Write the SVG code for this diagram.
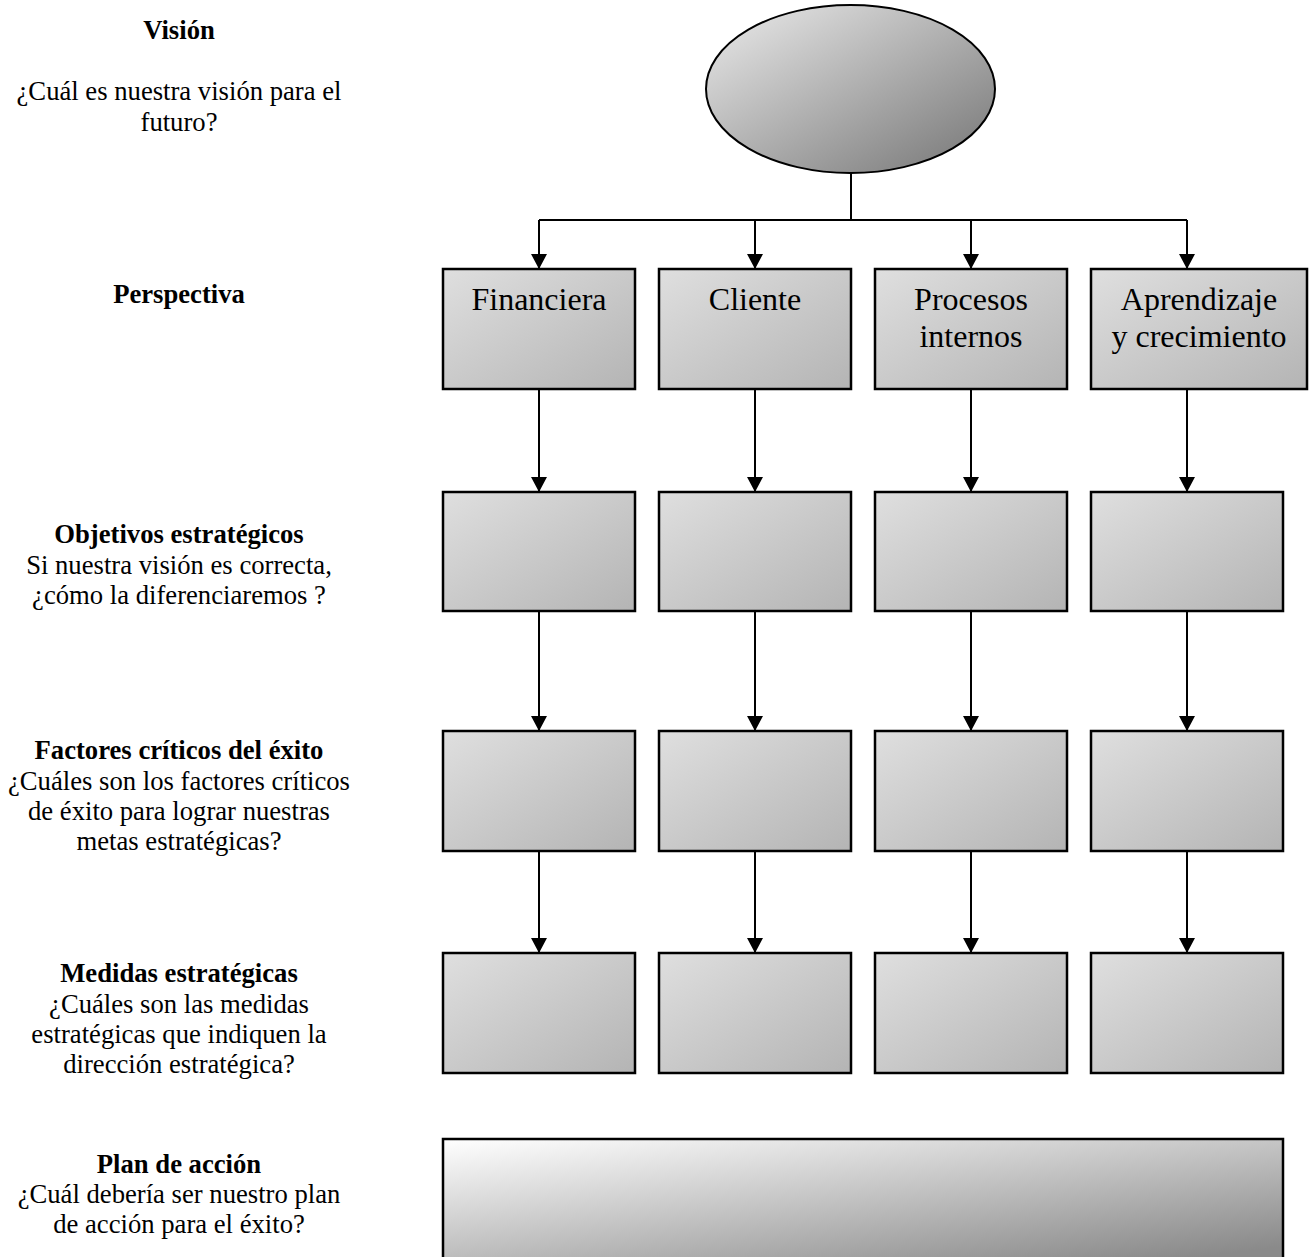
<svg xmlns="http://www.w3.org/2000/svg" width="1309" height="1257" viewBox="0 0 1309 1257">
<style>
.lbl{font-family:"Liberation Serif","Times New Roman",serif;font-size:26.67px;fill:#000;text-anchor:middle}
.b{font-weight:bold}
.bx{font-family:"Liberation Serif","Times New Roman",serif;font-size:32px;fill:#000;text-anchor:middle}
.box{fill:url(#gBox);stroke:#000;stroke-width:2.5}
.conn{stroke:#000;stroke-width:2;fill:none}
.arr{marker-end:url(#ah)}
</style>
<defs>
<linearGradient id="gBox" x1="0" y1="0" x2="1" y2="1">
<stop offset="0" stop-color="#dfdfdf"/>
<stop offset="1" stop-color="#b4b4b4"/>
</linearGradient>
<linearGradient id="gEll" x1="0" y1="0" x2="1" y2="1">
<stop offset="0" stop-color="#ececec"/>
<stop offset="1" stop-color="#747474"/>
</linearGradient>
<linearGradient id="gPlan" x1="0" y1="0" x2="0.8" y2="1">
<stop offset="0" stop-color="#ffffff"/>
<stop offset="1" stop-color="#8a8a8a"/>
</linearGradient>
<marker id="ah" markerUnits="userSpaceOnUse" markerWidth="16" markerHeight="16" refX="15" refY="8" orient="auto">
<path d="M0,0 L15,8 L0,16 z" fill="#000"/>
</marker>
</defs>

<g id="labels">
<text class="lbl b" x="179" y="39">Visión</text>
<text class="lbl" x="179" y="100">¿Cuál es nuestra visión para el</text>
<text class="lbl" x="179" y="131">futuro?</text>
<text class="lbl b" x="179" y="303">Perspectiva</text>
<text class="lbl b" x="179" y="543">Objetivos estratégicos</text>
<text class="lbl" x="179" y="574">Si nuestra visión es correcta,</text>
<text class="lbl" x="179" y="604">¿cómo la diferenciaremos ?</text>
<text class="lbl b" x="179" y="759">Factores críticos del éxito</text>
<text class="lbl" x="179" y="790">¿Cuáles son los factores críticos</text>
<text class="lbl" x="179" y="820">de éxito para lograr nuestras</text>
<text class="lbl" x="179" y="850">metas estratégicas?</text>
<text class="lbl b" x="179" y="982">Medidas estratégicas</text>
<text class="lbl" x="179" y="1013">¿Cuáles son las medidas</text>
<text class="lbl" x="179" y="1043">estratégicas que indiquen la</text>
<text class="lbl" x="179" y="1073">dirección estratégica?</text>
<text class="lbl b" x="179" y="1173">Plan de acción</text>
<text class="lbl" x="179" y="1203">¿Cuál debería ser nuestro plan</text>
<text class="lbl" x="179" y="1233">de acción para el éxito?</text>
</g>

<g id="connectors">
<path class="conn" d="M851,173 V220 M539,220 H1187"/>
<path class="conn arr" d="M539,220 V269"/>
<path class="conn arr" d="M755,220 V269"/>
<path class="conn arr" d="M971,220 V269"/>
<path class="conn arr" d="M1187,220 V269"/>
<path class="conn arr" d="M539,389 V492"/>
<path class="conn arr" d="M755,389 V492"/>
<path class="conn arr" d="M971,389 V492"/>
<path class="conn arr" d="M1187,389 V492"/>
<path class="conn arr" d="M539,611 V731"/>
<path class="conn arr" d="M755,611 V731"/>
<path class="conn arr" d="M971,611 V731"/>
<path class="conn arr" d="M1187,611 V731"/>
<path class="conn arr" d="M539,851 V953"/>
<path class="conn arr" d="M755,851 V953"/>
<path class="conn arr" d="M971,851 V953"/>
<path class="conn arr" d="M1187,851 V953"/>
</g>

<g id="vision">
<ellipse cx="850.5" cy="89" rx="144.5" ry="84" fill="url(#gEll)" stroke="#000" stroke-width="2"/>
</g>

<g id="p-financiera"><rect class="box" x="443" y="269" width="192" height="120"/><text class="bx" x="539" y="310">Financiera</text></g>
<g id="p-cliente"><rect class="box" x="659" y="269" width="192" height="120"/><text class="bx" x="755" y="310">Cliente</text></g>
<g id="p-procesos"><rect class="box" x="875" y="269" width="192" height="120"/><text class="bx" x="971" y="310">Procesos</text><text class="bx" x="971" y="347">internos</text></g>
<g id="p-aprendizaje"><rect class="box" x="1091" y="269" width="216" height="120"/><text class="bx" x="1199" y="310">Aprendizaje</text><text class="bx" x="1199" y="347">y crecimiento</text></g>

<g id="obj-1"><rect class="box" x="443" y="492" width="192" height="119"/></g>
<g id="obj-2"><rect class="box" x="659" y="492" width="192" height="119"/></g>
<g id="obj-3"><rect class="box" x="875" y="492" width="192" height="119"/></g>
<g id="obj-4"><rect class="box" x="1091" y="492" width="192" height="119"/></g>

<g id="fce-1"><rect class="box" x="443" y="731" width="192" height="120"/></g>
<g id="fce-2"><rect class="box" x="659" y="731" width="192" height="120"/></g>
<g id="fce-3"><rect class="box" x="875" y="731" width="192" height="120"/></g>
<g id="fce-4"><rect class="box" x="1091" y="731" width="192" height="120"/></g>

<g id="med-1"><rect class="box" x="443" y="953" width="192" height="120"/></g>
<g id="med-2"><rect class="box" x="659" y="953" width="192" height="120"/></g>
<g id="med-3"><rect class="box" x="875" y="953" width="192" height="120"/></g>
<g id="med-4"><rect class="box" x="1091" y="953" width="192" height="120"/></g>

<g id="plan"><rect x="443" y="1139" width="840" height="128" fill="url(#gPlan)" stroke="#000" stroke-width="2.5"/></g>
</svg>
